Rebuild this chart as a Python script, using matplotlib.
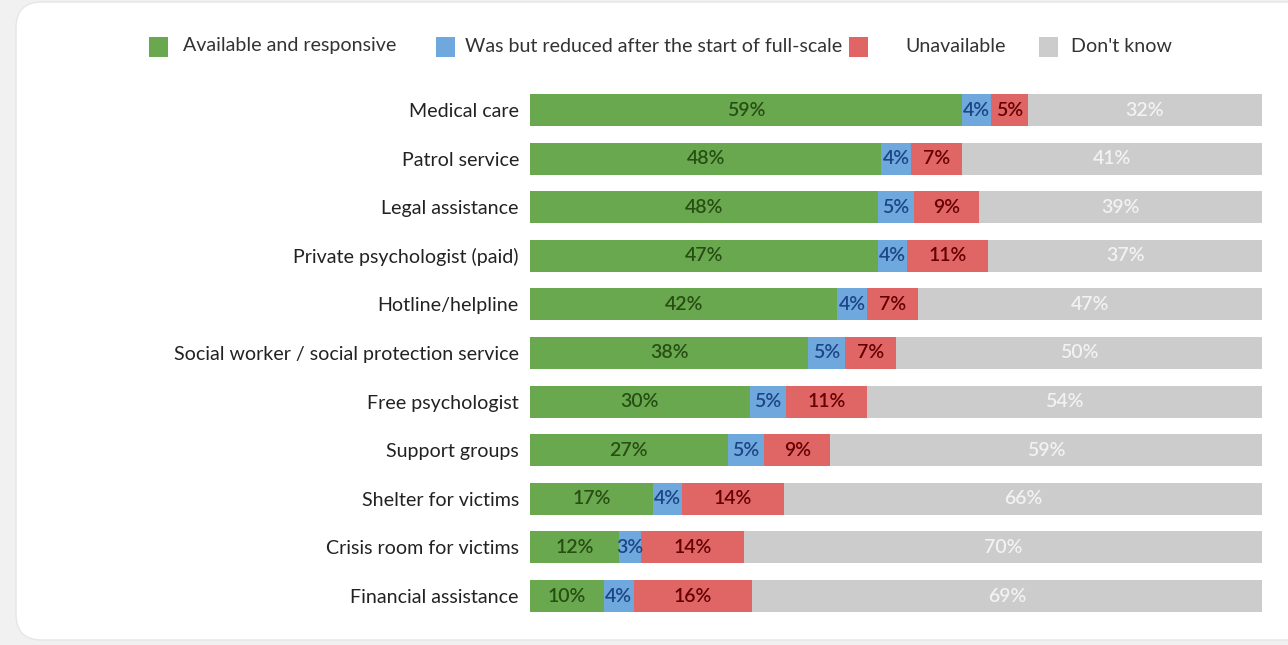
import numpy as np
import matplotlib.pyplot as plt
from matplotlib.patches import FancyBboxPatch, Rectangle

plt.rcParams['font.family'] = ['Lato', 'DejaVu Sans']

services = [
    "Medical care",
    "Patrol service",
    "Legal assistance",
    "Private psychologist (paid)",
    "Hotline/helpline",
    "Social worker / social protection service",
    "Free psychologist",
    "Support groups",
    "Shelter for victims",
    "Crisis room for victims",
    "Financial assistance",
]
available = [59, 48, 48, 47, 42, 38, 30, 27, 17, 12, 10]
reduced = [4, 4, 5, 4, 4, 5, 5, 5, 4, 3, 4]
unavailable = [5, 7, 9, 11, 7, 7, 11, 9, 14, 14, 16]
dont_know = [32, 41, 39, 37, 47, 50, 54, 59, 66, 70, 69]

series_names = ["Available and responsive",
                "Was but reduced after the start of full-scale",
                "Unavailable", "Don't know"]
series_vals = [available, reduced, unavailable, dont_know]
bar_colors = ["#6aa84f", "#6fa8dc", "#e06666", "#cccccc"]
text_colors = ["#274e13", "#1c4587", "#660000", "#f2f2f2"]

fig = plt.figure(figsize=(12.88, 6.45), dpi=100)
fig.patch.set_facecolor("#f1f1f1")

# white card behind everything
card = FancyBboxPatch((16 / 1288, 5 / 645), 1.1, 638 / 645,
                      boxstyle="round,pad=0,rounding_size=0.02",
                      transform=fig.transFigure, facecolor="white",
                      edgecolor="#e6e6e6", linewidth=1.0, zorder=-10,
                      mutation_aspect=1288 / 645)
fig.patches.append(card)

ax = fig.add_axes([530 / 1288, 1 - 620.3 / 645, 732 / 1288, (620.3 - 85.7) / 645])
ax.set_facecolor("none")
ax.set_zorder(2)

# 100% stacked: each row scaled by its own total (rounded shares don't always add to 100)
totals = np.sum(series_vals, axis=0).astype(float)
y = np.arange(len(services))
left = np.zeros(len(services))
for vals, col, tcol in zip(series_vals, bar_colors, text_colors):
    vals = np.array(vals, dtype=float)
    widths = vals / totals * 100
    ax.barh(y, widths, left=left, height=0.66, color=col, edgecolor="none")
    for yi, l, w, v in zip(y, left, widths, vals):
        ax.text(l + w / 2, yi, f"{int(v)}%", ha="center", va="center",
                fontsize=14, color=tcol, fontweight=600)
    left += widths

ax.set_xlim(0, 100)
ax.set_ylim(len(services) - 0.5, -0.5)
ax.set_yticks(y)
ax.set_yticklabels(services, fontsize=14.1, color="#222222")
ax.tick_params(axis="y", length=0, pad=8)
ax.set_xticks([])
for s in ax.spines.values():
    s.set_visible(False)

# legend row
legend_sq = [149, 436, 849, 1039]
legend_tx = [183, 465, 905, 1071]
for name, col, sx, tx in zip(series_names, bar_colors, legend_sq, legend_tx):
    fig.patches.append(Rectangle((sx / 1288, 1 - 57 / 645), 19 / 1288, 20 / 645,
                                 transform=fig.transFigure, facecolor=col,
                                 edgecolor="none"))
    fig.text(tx / 1288, 1 - 46 / 645, name, ha="left", va="center",
             fontsize=14.1, color="#333333")

fig.savefig("out.png", dpi=100, facecolor=fig.get_facecolor())
